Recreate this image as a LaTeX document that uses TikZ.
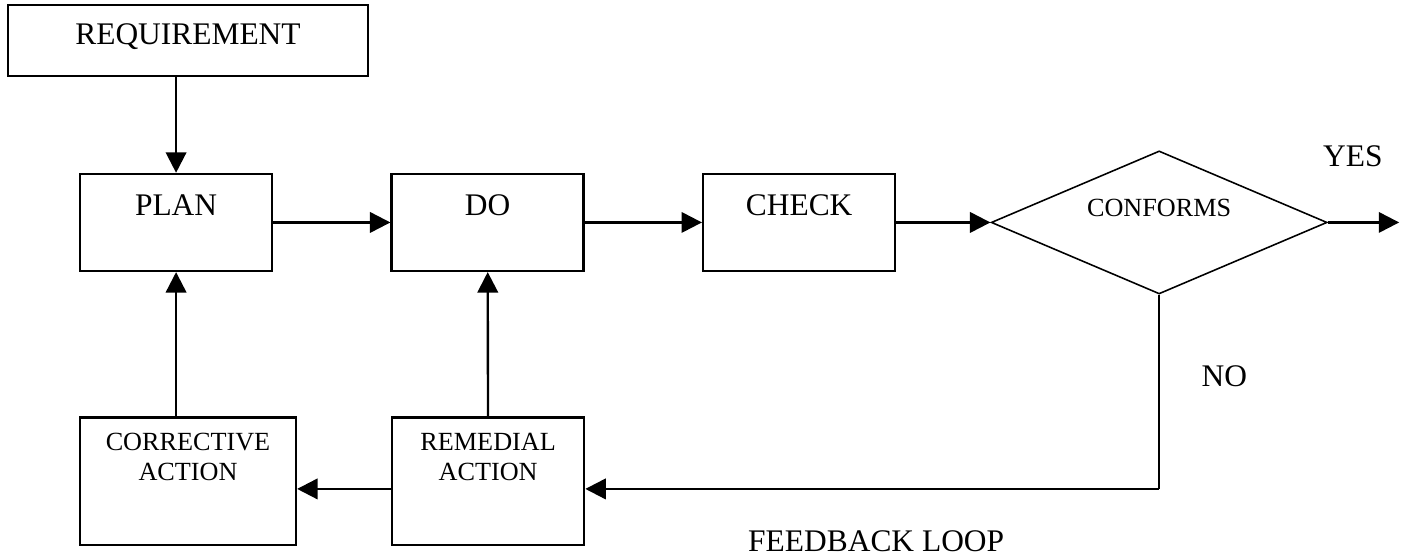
\documentclass[tikz,border=0pt]{standalone}
\usepackage{fontspec}
\setmainfont{Liberation Serif}
\usetikzlibrary{arrows.meta,positioning,shapes.geometric}
\tikzset{
  stagebox/.style={
    rectangle, draw=black, line width=0.9pt,
    minimum width=73.3pt, inner ysep=0pt,
    text height=16pt, text depth=21pt,
    font=\fontsize{12}{14}\selectfont
  },
  actbox/.style={
    rectangle, draw=black, line width=0.9pt,
    minimum width=#1, inner ysep=0pt,
    text height=24.2pt, text depth=24.6pt,
    align=center, font=\fontsize{10}{11.5}\selectfont
  },
  actbox/.default=73.3pt,
  decision/.style={
    diamond, draw=black, line width=0.6pt, aspect=2.35, inner sep=0pt,
    minimum width=128.2pt, minimum height=54.6pt,
    text depth=11.2pt, font=\fontsize{10}{12}\selectfont
  },
  flowarrow/.style={
    -{Triangle[length=7.8pt,width=7.8pt]}, line width=0.9pt
  },
  tag/.style={font=\fontsize{12}{14}\selectfont, inner sep=0pt}
}
\begin{document}
\begin{tikzpicture}
  \useasboundingbox (0,0) rectangle (536.6pt,-213pt);
  \node[stagebox] (plan) at (67.2pt,-84.9pt) {PLAN};
  \node[stagebox, right=44.7pt of plan] (do) {DO};
  \node[stagebox, right=44.7pt of do] (check) {CHECK};
  \node[decision, right=35.9pt of check] (conf) {CONFORMS};
  \node[stagebox, minimum width=137.4pt, text height=15pt, text depth=12.1pt,
        above right=36.6pt and -27.5pt of plan.north west] (req) {REQUIREMENT};
  \node[actbox=82.4pt, below right=55pt and 0pt of plan.south west] (corr) {CORRECTIVE\\ACTION};
  \node[actbox, right=35.8pt of corr] (rem) {REMEDIAL\\ACTION};
  \draw[flowarrow] (req.south -| plan.north) -- (plan.north);
  \draw[flowarrow] (plan) -- (do);
  \draw[flowarrow] (do) -- (check);
  \draw[flowarrow] (check) -- (conf);
  \coordinate[right=27.2pt of conf.east] (exit);
  \draw[flowarrow] (conf.east) -- (exit);
  \node[tag, anchor=base west] (yes) at ([xshift=-2pt,yshift=21.4pt]conf.east) {YES};
  \coordinate[yshift=-2.9pt] (turn) at (conf.south |- rem.east);
  \draw[line width=0.6pt] (conf.south) -- (turn);
  \draw[flowarrow] (turn) -- ([yshift=-2.9pt]rem.east);
  \draw[flowarrow] ([yshift=-2.9pt]rem.west) -- ([yshift=-2.9pt]corr.east);
  \draw[flowarrow] (rem) -- (do);
  \draw[flowarrow] (corr.north -| plan.south) -- (plan.south);
  \node[tag, anchor=base west] (no) at ([xshift=16pt,yshift=39.1pt]turn) {NO};
  \node[tag, anchor=base] (loop) at ([xshift=-108pt,yshift=-24pt]turn) {FEEDBACK LOOP};
\end{tikzpicture}
\end{document}
